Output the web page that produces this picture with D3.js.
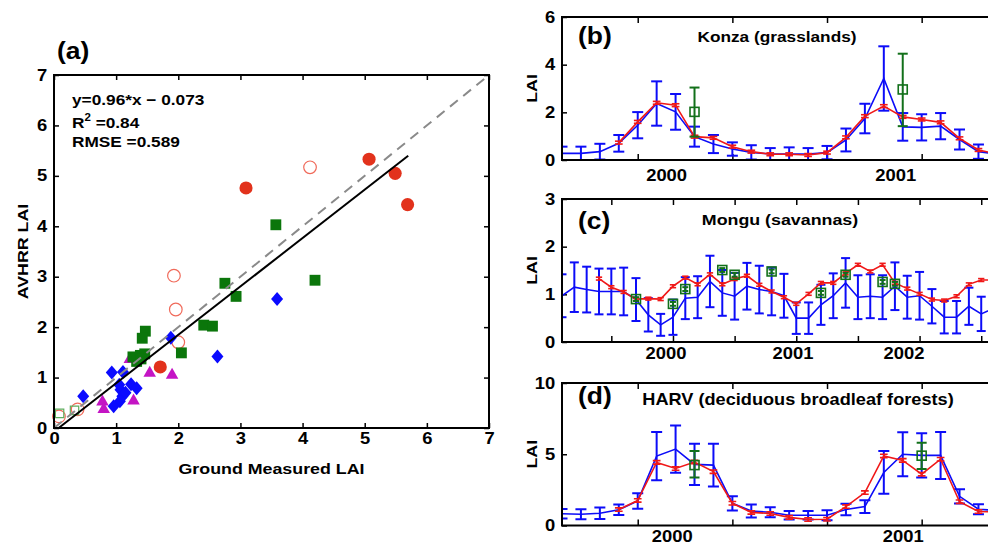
<!DOCTYPE html>
<html>
<head>
<meta charset="utf-8">
<script src="https://cdn.jsdelivr.net/npm/d3@7"></script>
<style>
  body { margin: 0; background: #fff; }
  svg { display: block; }
  text { font-family: "Liberation Sans", Arial, sans-serif; font-weight: bold; fill: #000; }
</style>
</head>
<body>
<script>
// ---------------- data ----------------

// (a) scatter, [ground LAI, AVHRR LAI]
const aRedFilled   = [[3.09,4.76],[5.07,5.33],[5.49,5.05],[5.69,4.43],[1.71,1.21]];
const aRedOpen     = [[4.12,5.17],[1.93,3.02],[1.96,2.35],[2.00,1.70],[0.08,0.23],[0.38,0.37]];
const aGreenFilled = [[3.57,4.03],[4.20,2.93],[2.75,2.87],[2.93,2.61],[2.41,2.04],[2.55,2.02],[2.05,1.49],
                      [1.47,1.92],[1.42,1.78],[1.27,1.41],[1.39,1.44],[1.46,1.47],[1.33,1.32],[1.40,1.37]];
const aGreenOpen   = [[0.09,0.29],[0.33,0.35]];
const aBlue        = [[3.59,2.56],[2.63,1.42],[1.88,1.79],[0.93,1.10],[1.11,1.11],[0.47,0.63],[1.05,0.86],
                      [1.07,0.76],[1.24,0.87],[1.33,0.79],[1.10,0.63],[1.06,0.53],[0.96,0.43],[1.15,0.70]];
const aMagenta     = [[1.54,1.09],[1.90,1.05],[0.78,0.52],[0.80,0.37],[1.28,0.54],[1.22,1.36]];
const aTicks = [0,1,2,3,4,5,6,7];
const fitSlope = 0.96, fitIntercept = -0.073, fitRange = [0.08, 5.7];
const aStats = ['y=0.96*x \u2212 0.073', 'R', '2', ' =0.84', 'RMSE =0.589'];

// (b) Konza, values per composite step (null = no value)
const bBlue    = [0.28,0.28,0.35,0.70,1.46,2.37,2.02,0.98,0.67,0.46,0.32,0.25,0.25,0.25,0.31,0.84,1.74,3.42,1.39,1.37,1.42,0.86,0.35,0.25];
const bBlueErr = [0.28,0.28,0.33,0.35,0.55,0.93,0.75,0.42,0.38,0.28,0.30,0.25,0.28,0.25,0.28,0.48,0.62,1.35,0.58,0.55,0.55,0.42,0.30,0.28];
const bRed     = [null,null,null,0.73,1.60,2.40,2.30,0.98,0.93,0.56,0.35,0.24,0.24,0.21,0.31,0.95,1.84,2.26,1.81,1.70,1.58,0.91,0.42,0.25];
const bGreenIdx = [7,18], bGreen = [2.02,2.96], bGreenLo = [0.98,1.42], bGreenHi = [3.04,4.46];
const bYTicks = [0,2,4,6];
const bXTicks = [4,9,14,19];
const bYearPos = [5.5,17.6], bYears = ['2000','2001'];

// (c) Mongu
const cBlue    = [0.97,1.15,1.10,1.06,1.06,1.06,0.89,0.57,0.36,0.52,0.92,0.94,1.27,1.03,0.96,1.17,1.10,1.06,
                  0.97,0.50,0.50,0.78,0.97,1.24,0.94,0.96,0.94,1.17,0.94,0.97,0.75,0.52,0.52,0.75,0.59,0.70];
const cBlueErr = [0.45,0.52,0.48,0.48,0.48,0.50,0.45,0.35,0.23,0.37,0.44,0.44,0.54,0.48,0.49,0.49,0.50,0.50,
                  0.46,0.33,0.33,0.42,0.47,0.52,0.46,0.46,0.46,0.50,0.45,0.50,0.36,0.34,0.34,0.39,0.36,0.38];
const cRed     = [null,null,null,1.33,1.15,1.05,0.90,0.91,0.90,1.17,1.35,1.21,1.42,1.21,1.32,1.39,1.20,1.06,
                  0.94,0.80,1.01,1.24,1.24,1.44,1.62,1.48,1.62,1.24,1.12,1.01,0.89,0.87,0.96,1.21,1.30,1.30];
const cGreenIdx = [6,9,10,13,14,17,21,23,26,27];
const cGreen    = [0.90,0.80,1.11,1.51,1.41,1.48,1.03,1.41,1.26,1.22];
const cYTicks = [0,1,2,3];
const cXTicks = [4,9,14,19,24,29,34];
const cYearPos = [8.4,18.7,27.7], cYears = ['2000','2001','2002'];

// (d) HARV
const dBlue    = [0.82,0.79,0.86,1.10,1.72,4.87,5.36,4.29,4.24,1.56,1.02,0.93,0.72,0.72,0.72,1.12,1.33,3.72,5.00,4.92,4.92,2.05,1.14,1.05];
const dBlueErr = [0.33,0.35,0.40,0.37,0.55,1.70,1.65,1.45,1.50,0.50,0.45,0.35,0.30,0.30,0.35,0.40,0.45,1.50,1.55,1.55,1.65,0.50,0.35,0.30];
const dRed     = [null,null,null,1.12,1.76,4.43,4.00,4.45,3.78,1.56,0.92,0.84,0.57,0.42,0.44,1.33,2.31,4.88,4.57,3.60,4.65,1.67,0.98,0.95];
const dGreenIdx = [7,19], dGreen = [4.24,4.90], dGreenLo = [3.36,3.96], dGreenHi = [5.22,5.80];
const dYTicks = [0,5,10];
const dXTicks = [4,9,14,19];
const dYearPos = [5.8,18.0], dYears = ['2000','2001'];

// ---------------- drawing ----------------
const W = 988, H = 548;
const SX = 1.15; // type in the source figure is stretched horizontally
const BLUE = '#0c0cf8', RED = '#f01818', GREEN = '#12701a';

const svg = d3.select('body').append('svg').attr('width', W).attr('height', H);

function txt(g, x, y, s, size, anchor = 'middle', rot = 0) {
  return g.append('text')
    .attr('transform', `translate(${x},${y}) rotate(${rot}) scale(${SX},1)`)
    .attr('text-anchor', anchor).attr('font-size', size).text(s);
}

function fixAxis(sel, size = 16) {
  sel.attr('font-family', null).attr('font-size', null);
  sel.select('.domain').remove();
  sel.selectAll('text').attr('font-size', size).attr('fill', '#000')
    .attr('transform', `scale(${SX},1)`);
  sel.selectAll('line').attr('stroke', '#000').attr('stroke-width', 1.5);
}

// ---- panel (a) ----
const xA = d3.scaleLinear().domain([0, 7]).range([54, 489]);
const yA = d3.scaleLinear().domain([0, 7]).range([428, 75]);
const gA = svg.append('g');

gA.append('g').attr('transform', `translate(0,${yA(0)})`)
  .call(d3.axisBottom(xA).tickValues(aTicks).tickSizeInner(-5).tickSizeOuter(0).tickPadding(5).tickFormat(d3.format('d')))
  .call(fixAxis);
gA.append('g').attr('transform', `translate(0,${yA(7)})`)
  .call(d3.axisTop(xA).tickValues(aTicks).tickSizeInner(-5).tickSizeOuter(0).tickFormat(''))
  .call(fixAxis);
gA.append('g').attr('transform', `translate(${xA(0)},0)`)
  .call(d3.axisLeft(yA).tickValues(aTicks).tickSizeInner(-5).tickSizeOuter(0).tickPadding(6).tickFormat(d3.format('d')))
  .call(fixAxis);
gA.append('g').attr('transform', `translate(${xA(7)},0)`)
  .call(d3.axisRight(yA).tickValues(aTicks).tickSizeInner(-5).tickSizeOuter(0).tickFormat(''))
  .call(fixAxis);

const sym = (type, size) => d3.symbol().type(type).size(size)();
const diamond = 'M0,-7L6,0L0,7L-6,0Z';
function markers(data, path, fill, stroke, sw = 1) {
  gA.append('g').selectAll('path').data(data).join('path')
    .attr('d', path)
    .attr('transform', d => `translate(${xA(d[0])},${yA(d[1])})`)
    .attr('fill', fill).attr('stroke', stroke).attr('stroke-width', sw);
}
markers(aRedOpen, sym(d3.symbolCircle, 125), 'none', '#f06a5a', 1.2);
markers(aGreenOpen, sym(d3.symbolSquare, 70), 'none', '#5fae5f', 1.2);
markers(aMagenta, sym(d3.symbolTriangle, 68), '#c414c4', 'none');
markers(aGreenFilled, sym(d3.symbolSquare, 118), '#0b760b', 'none');
markers(aBlue, diamond, '#0a0aff', 'none');
markers(aRedFilled, sym(d3.symbolCircle, 135), '#e2321c', 'none');

gA.append('line')
  .attr('x1', xA(0)).attr('y1', yA(0)).attr('x2', xA(7)).attr('y2', yA(7))
  .attr('stroke', '#8a8a8a').attr('stroke-width', 2).attr('stroke-dasharray', '10,7');
gA.append('line')
  .attr('x1', xA(fitRange[0])).attr('y1', yA(fitSlope * fitRange[0] + fitIntercept))
  .attr('x2', xA(fitRange[1])).attr('y2', yA(fitSlope * fitRange[1] + fitIntercept))
  .attr('stroke', '#000').attr('stroke-width', 2);

gA.append('rect').attr('x', xA(0)).attr('y', yA(7))
  .attr('width', xA(7) - xA(0)).attr('height', yA(0) - yA(7))
  .attr('fill', 'none').attr('stroke', '#000').attr('stroke-width', 2);

txt(gA, 72, 105, aStats[0], 15, 'start');
const r2 = txt(gA, 72, 128, aStats[1], 15, 'start');
r2.append('tspan').attr('font-size', 10).attr('dy', -7).text(aStats[2]);
r2.append('tspan').attr('dy', 7).text(aStats[3]);
txt(gA, 72, 147, aStats[4], 15, 'start');

txt(gA, 57, 59, '(a)', 23, 'start');
txt(gA, (xA(0) + xA(7)) / 2, 474, 'Ground Measured LAI', 15.5);
txt(gA, 28, (yA(0) + yA(7)) / 2, 'AVHRR LAI', 15.5, 'middle', -90);

// ---- panels (b)-(d) ----
function seriesPanel(p) {
  const left = 562;
  const x = d3.scaleLinear().domain([0, p.n]).range([left, left + p.n * p.step]);
  const y = d3.scaleLinear().domain([0, p.yMax]).range([p.bottom, p.top]);
  const g = svg.append('g');
  const clipId = 'clip-' + p.tag.replace(/\W/g, '');
  g.append('clipPath').attr('id', clipId).append('rect')
    .attr('x', left).attr('y', p.top - 20).attr('width', W - left).attr('height', p.bottom - p.top + 40);

  g.append('g').attr('transform', `translate(0,${p.bottom})`)
    .call(d3.axisBottom(x).tickValues(p.xTicks).tickSizeInner(-6).tickSizeOuter(0).tickFormat(''))
    .call(fixAxis);
  g.append('g').attr('transform', `translate(0,${p.bottom})`)
    .call(d3.axisBottom(x).tickValues(p.yearPos).tickSize(0).tickPadding(p.labPad).tickFormat((d, i) => p.years[i]))
    .call(fixAxis).call(s => s.selectAll('line').remove());
  g.append('g').attr('transform', `translate(0,${p.top})`)
    .call(d3.axisTop(x).tickValues(p.xTicks).tickSizeInner(-6).tickSizeOuter(0).tickFormat(''))
    .call(fixAxis);
  g.append('g').attr('transform', `translate(${left},0)`)
    .call(d3.axisLeft(y).tickValues(p.yTicks).tickSizeInner(-5).tickSizeOuter(0).tickPadding(6).tickFormat(d3.format('d')))
    .call(fixAxis);

  const plot = g.append('g').attr('clip-path', `url(#${clipId})`);

  function errBars(idx, lo, hi, color, cap, sw) {
    const eb = plot.append('g').attr('stroke', color).attr('stroke-width', sw);
    idx.forEach((k, j) => {
      const xx = x(k);
      eb.append('line').attr('x1', xx).attr('x2', xx).attr('y1', y(lo[j])).attr('y2', y(hi[j]));
      eb.append('line').attr('x1', xx - cap / 2).attr('x2', xx + cap / 2).attr('y1', y(lo[j])).attr('y2', y(lo[j]));
      eb.append('line').attr('x1', xx - cap / 2).attr('x2', xx + cap / 2).attr('y1', y(hi[j])).attr('y2', y(hi[j]));
    });
  }
  const line = d3.line().defined(d => d[1] != null).x(d => x(d[0])).y(d => y(d[1]));

  // blue series with error bars
  const bIdx = p.blue.map((v, i) => i);
  plot.append('path').datum(p.blue.map((v, i) => [i, v])).attr('d', line)
    .attr('fill', 'none').attr('stroke', BLUE).attr('stroke-width', 1.6);
  errBars(bIdx, p.blue.map((v, i) => Math.max(0, v - p.blueErr[i])), p.blue.map((v, i) => v + p.blueErr[i]), BLUE, p.cap, 2);

  // red series with its small error bars
  const rPts = p.red.map((v, i) => [i, v]);
  plot.append('path').datum(rPts).attr('d', line)
    .attr('fill', 'none').attr('stroke', RED).attr('stroke-width', 1.6);
  const rDef = rPts.filter(d => d[1] != null);
  errBars(rDef.map(d => d[0]), rDef.map(d => d[1] - p.redErr), rDef.map(d => d[1] + p.redErr), RED, p.cap * 0.7, 1.6);

  // green ground measurements
  errBars(p.gIdx, p.gLo, p.gHi, GREEN, p.gCap, 2);
  plot.append('g').selectAll('rect').data(p.gIdx).join('rect')
    .attr('x', (k) => x(k) - p.gSize / 2).attr('y', (k, j) => y(p.gVal[j]) - p.gSize / 2)
    .attr('width', p.gSize).attr('height', p.gSize)
    .attr('fill', 'none').attr('stroke', GREEN).attr('stroke-width', 1.6);

  g.append('rect').attr('x', left).attr('y', p.top)
    .attr('width', p.n * p.step).attr('height', p.bottom - p.top)
    .attr('fill', 'none').attr('stroke', '#000').attr('stroke-width', 2);

  txt(g, 578, p.tagY, p.tag, 23, 'start');
  txt(g, p.titleX, p.titleY, p.title, p.titleSize);
  txt(g, 537, (p.top + p.bottom) / 2, 'LAI', 15.5, 'middle', -90);
}

seriesPanel({
  tag: '(b)', title: 'Konza (grasslands)', titleX: 777, titleY: 42, titleSize: 15, tagY: 44, labPad: 10,
  top: 17, bottom: 160, yMax: 6, n: 24, step: 18.93, cap: 11,
  yTicks: bYTicks, xTicks: bXTicks, yearPos: bYearPos, years: bYears,
  blue: bBlue, blueErr: bBlueErr, red: bRed, redErr: 0.06,
  gIdx: bGreenIdx, gVal: bGreen, gLo: bGreenLo, gHi: bGreenHi, gCap: 10, gSize: 9
});
seriesPanel({
  tag: '(c)', title: 'Mongu (savannas)', titleX: 780, titleY: 225, titleSize: 15.5, tagY: 229, labPad: 6,
  top: 199, bottom: 342, yMax: 3, n: 36, step: 12.33, cap: 9,
  yTicks: cYTicks, xTicks: cXTicks, yearPos: cYearPos, years: cYears,
  blue: cBlue, blueErr: cBlueErr, red: cRed, redErr: 0.03,
  gIdx: cGreenIdx, gVal: cGreen, gLo: cGreen.map(v => v - 0.04), gHi: cGreen.map(v => v + 0.04), gCap: 6, gSize: 9
});
seriesPanel({
  tag: '(d)', title: 'HARV (deciduous broadleaf forests)', titleX: 798, titleY: 405, titleSize: 15.8, tagY: 404, labPad: 5,
  top: 383, bottom: 525.5, yMax: 10, n: 24, step: 18.93, cap: 11,
  yTicks: dYTicks, xTicks: dXTicks, yearPos: dYearPos, years: dYears,
  blue: dBlue, blueErr: dBlueErr, red: dRed, redErr: 0.12,
  gIdx: dGreenIdx, gVal: dGreen, gLo: dGreenLo, gHi: dGreenHi, gCap: 10, gSize: 9
});
</script>
</body>
</html>
